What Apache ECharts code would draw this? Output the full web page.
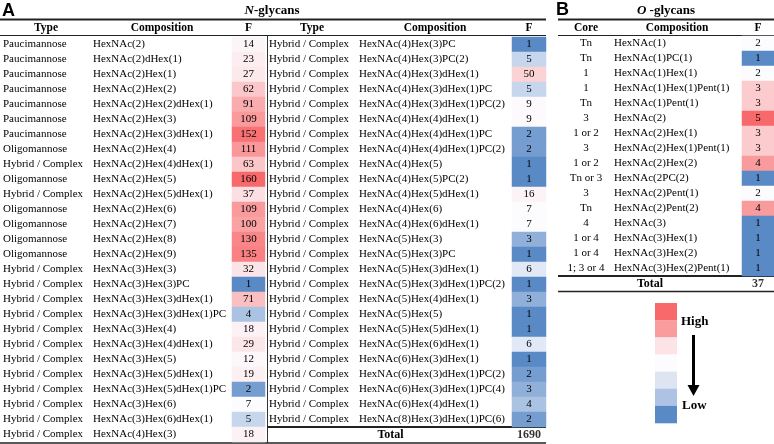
<!DOCTYPE html>
<html>
<head>
<meta charset="utf-8">
<script src="https://cdn.jsdelivr.net/npm/echarts@6/dist/echarts.min.js"></script>
<style>html,body{margin:0;padding:0;background:#fff;}#main{width:774px;height:444px;}</style>
</head>
<body>
<div id="main"></div>
<script>
// ---------- DATA ----------
const nLeftType = ['Paucimannose','Paucimannose','Paucimannose','Paucimannose','Paucimannose','Paucimannose','Paucimannose','Oligomannose','Hybrid / Complex','Oligomannose','Hybrid / Complex','Oligomannose','Oligomannose','Oligomannose','Oligomannose','Hybrid / Complex','Hybrid / Complex','Hybrid / Complex','Hybrid / Complex','Hybrid / Complex','Hybrid / Complex','Hybrid / Complex','Hybrid / Complex','Hybrid / Complex','Hybrid / Complex','Hybrid / Complex','Hybrid / Complex'];
const nLeftComp = ['HexNAc(2)','HexNAc(2)dHex(1)','HexNAc(2)Hex(1)','HexNAc(2)Hex(2)','HexNAc(2)Hex(2)dHex(1)','HexNAc(2)Hex(3)','HexNAc(2)Hex(3)dHex(1)','HexNAc(2)Hex(4)','HexNAc(2)Hex(4)dHex(1)','HexNAc(2)Hex(5)','HexNAc(2)Hex(5)dHex(1)','HexNAc(2)Hex(6)','HexNAc(2)Hex(7)','HexNAc(2)Hex(8)','HexNAc(2)Hex(9)','HexNAc(3)Hex(3)','HexNAc(3)Hex(3)PC','HexNAc(3)Hex(3)dHex(1)','HexNAc(3)Hex(3)dHex(1)PC','HexNAc(3)Hex(4)','HexNAc(3)Hex(4)dHex(1)','HexNAc(3)Hex(5)','HexNAc(3)Hex(5)dHex(1)','HexNAc(3)Hex(5)dHex(1)PC','HexNAc(3)Hex(6)','HexNAc(3)Hex(6)dHex(1)','HexNAc(4)Hex(3)'];
const nLeftF = [14,23,27,62,91,109,152,111,63,160,37,109,100,130,135,32,1,71,4,18,29,12,19,2,7,5,18];

const nRightType = ['Hybrid / Complex','Hybrid / Complex','Hybrid / Complex','Hybrid / Complex','Hybrid / Complex','Hybrid / Complex','Hybrid / Complex','Hybrid / Complex','Hybrid / Complex','Hybrid / Complex','Hybrid / Complex','Hybrid / Complex','Hybrid / Complex','Hybrid / Complex','Hybrid / Complex','Hybrid / Complex','Hybrid / Complex','Hybrid / Complex','Hybrid / Complex','Hybrid / Complex','Hybrid / Complex','Hybrid / Complex','Hybrid / Complex','Hybrid / Complex','Hybrid / Complex','Hybrid / Complex'];
const nRightComp = ['HexNAc(4)Hex(3)PC','HexNAc(4)Hex(3)PC(2)','HexNAc(4)Hex(3)dHex(1)','HexNAc(4)Hex(3)dHex(1)PC','HexNAc(4)Hex(3)dHex(1)PC(2)','HexNAc(4)Hex(4)dHex(1)','HexNAc(4)Hex(4)dHex(1)PC','HexNAc(4)Hex(4)dHex(1)PC(2)','HexNAc(4)Hex(5)','HexNAc(4)Hex(5)PC(2)','HexNAc(4)Hex(5)dHex(1)','HexNAc(4)Hex(6)','HexNAc(4)Hex(6)dHex(1)','HexNAc(5)Hex(3)','HexNAc(5)Hex(3)PC','HexNAc(5)Hex(3)dHex(1)','HexNAc(5)Hex(3)dHex(1)PC(2)','HexNAc(5)Hex(4)dHex(1)','HexNAc(5)Hex(5)','HexNAc(5)Hex(5)dHex(1)','HexNAc(5)Hex(6)dHex(1)','HexNAc(6)Hex(3)dHex(1)','HexNAc(6)Hex(3)dHex(1)PC(2)','HexNAc(6)Hex(3)dHex(1)PC(4)','HexNAc(6)Hex(4)dHex(1)','HexNAc(8)Hex(3)dHex(1)PC(6)'];
const nRightF = [1,5,50,5,9,9,2,2,1,1,16,7,7,3,1,6,1,3,1,1,6,1,2,3,4,2];
const nTotal = 1690;

const oCore = ['Tn','Tn','1','1','Tn','3','1 or 2','3','1 or 2','Tn or 3','3','Tn','4','1 or 4','1 or 4','1; 3 or 4'];
const oComp = ['HexNAc(1)','HexNAc(1)PC(1)','HexNAc(1)Hex(1)','HexNAc(1)Hex(1)Pent(1)','HexNAc(1)Pent(1)','HexNAc(2)','HexNAc(2)Hex(1)','HexNAc(2)Hex(1)Pent(1)','HexNAc(2)Hex(2)','HexNAc(2PC(2)','HexNAc(2)Pent(1)','HexNAc(2)Pent(2)','HexNAc(3)','HexNAc(3)Hex(1)','HexNAc(3)Hex(2)','HexNAc(3)Hex(2)Pent(1)'];
const oF = [2,1,2,3,3,5,3,3,4,1,2,4,1,1,1,1];
const oTotal = 37;

const fHeader = ['F'];
const coreHeader = ['Core'];
const totalLabel = 'Total';

// ---------- STYLE ----------
const SERIF = "'Liberation Serif','Times New Roman',serif";
const SANS = "'Liberation Sans',Arial,sans-serif";
const RED = [248,105,107], WHITE = [252,252,255], BLUE = [90,138,198];
const legendColors = ['#F8696B','#FA9C9E','#FCE3E6','#FCFCFF','#DDE5F3','#AEC3E3','#5A8AC6'];

function median(arr){
  const s = arr.slice().sort((a,b)=>a-b); const n = s.length;
  return n % 2 ? s[(n-1)/2] : (s[n/2-1] + s[n/2]) / 2;
}
function mix(a,b,t){ return 'rgb(' + a.map((v,i)=>Math.round(v+(b[i]-v)*t)).join(',') + ')'; }
function scaleStops(min, mid, max){
  const out = [];
  for (let v = min; v <= max; v++) {
    if (v <= mid) out.push(mix(BLUE, WHITE, (v-min)/(mid-min)));
    else out.push(mix(WHITE, RED, (v-mid)/(max-mid)));
  }
  return out;
}
const nAll = nLeftF.concat(nRightF);
const nMin = Math.min(...nAll), nMax = Math.max(...nAll), nMid = median(nAll);
const oMin = Math.min(...oF), oMax = Math.max(...oF), oMid = median(oF);

function rowAxis(grid, cats, formatter, rich){
  return {
    type:'category', gridIndex:grid, data:cats, inverse:true,
    axisLine:{show:false}, axisTick:{show:false}, splitLine:{show:false},
    axisLabel:{show:!!formatter, interval:0, margin:0, fontFamily:SERIF, fontSize:11, color:'#000', lineHeight:15, formatter:formatter, rich:rich}
  };
}
function headAxis(grid, cats, margin){
  return {
    type:'category', gridIndex:grid, data:cats, position:'top',
    axisLine:{show:false}, axisTick:{show:false}, splitLine:{show:false},
    axisLabel:{fontFamily:SERIF, fontWeight:'bold', fontSize:11.5, color:'#000', margin:margin}
  };
}
const txt = {fontFamily:SERIF, fontSize:11, color:'#000', align:'left'};
const totStyle = {align:'center', fontFamily:SERIF, fontSize:12, fontWeight:'bold', color:'#000'};
const cellLabel = {show:true, fontFamily:SERIF, fontSize:11, color:'#000'};
const totLabel = {show:true, position:'inside', formatter:p=>p.value[2], fontFamily:SERIF, fontSize:12, fontWeight:'bold', color:'#000', textBorderWidth:0};

const option = {
  animation:false,
  backgroundColor:'#fff',
  grid:[
    {left:232, top:37, width:33, height:405},
    {left:512, top:37, width:34, height:405},
    {left:742, top:36, width:32, height:255},
    {left:558, top:36, width:56, height:255}
  ],
  xAxis:[headAxis(0,fHeader,3), headAxis(1,fHeader,3), headAxis(2,fHeader,2), headAxis(3,coreHeader,2)],
  yAxis:[
    rowAxis(0, nLeftComp, (v,i)=>'{t|'+nLeftType[i]+'}{c|'+v+'}',
      {t:Object.assign({width:90},txt), c:Object.assign({width:139},txt)}),
    rowAxis(1, nRightComp.concat([totalLabel]), (v,i)=> i === nRightComp.length ? '{tot|'+v+'}' : '{t|'+nRightType[i]+'}{c|'+v+'}',
      {t:Object.assign({width:90},txt), c:Object.assign({width:153},txt), tot:Object.assign({width:243}, totStyle)}),
    rowAxis(2, oComp.concat([totalLabel]), (v,i)=> i === oComp.length ? '{tot|'+v+'}' : '{c|'+v+'}',
      {c:Object.assign({width:128},txt), tot:Object.assign({width:184}, totStyle)}),
    rowAxis(3, oComp.concat([totalLabel]), null)
  ],
  visualMap:[
    {type:'continuous', show:false, seriesIndex:[0,1], min:nMin, max:nMax, inRange:{color:scaleStops(nMin,nMid,nMax)}},
    {type:'continuous', show:false, seriesIndex:[2], min:oMin, max:oMax, inRange:{color:scaleStops(oMin,oMid,oMax)}}
  ],
  series:[
    {type:'heatmap', xAxisIndex:0, yAxisIndex:0, data:nLeftF.map((v,i)=>[0,i,v]), label:cellLabel, emphasis:{disabled:true}},
    {type:'heatmap', xAxisIndex:1, yAxisIndex:1, data:nRightF.map((v,i)=>[0,i,v]), label:cellLabel, emphasis:{disabled:true}},
    {type:'heatmap', xAxisIndex:2, yAxisIndex:2, data:oF.map((v,i)=>[0,i,v]), label:cellLabel, emphasis:{disabled:true}},
    {type:'scatter', xAxisIndex:1, yAxisIndex:1, symbolSize:1, itemStyle:{color:'rgba(0,0,0,0)'},
     data:[[0, nRightComp.length, nTotal]], label:totLabel, emphasis:{disabled:true}},
    {type:'scatter', xAxisIndex:2, yAxisIndex:2, symbolSize:1, itemStyle:{color:'rgba(0,0,0,0)'},
     data:[[0, oComp.length, oTotal]], label:totLabel, emphasis:{disabled:true}},
    {type:'scatter', xAxisIndex:3, yAxisIndex:3, symbolSize:1, itemStyle:{color:'rgba(0,0,0,0)'},
     data:oCore.map((c,i)=>[0,i,c]), emphasis:{disabled:true},
     label:{show:true, position:'inside', formatter:p=>p.value[2], fontFamily:SERIF, fontSize:11, color:'#000', textBorderWidth:0, opacity:1}}
  ],
  graphic:[]
};

const G = option.graphic;
function text(x,y,t,style){ G.push({type:'text', x:x, y:y, silent:true, style:Object.assign({text:t, fill:'#000', fontFamily:SERIF, fontSize:11.5, fontWeight:'bold', align:'center', verticalAlign:'middle'}, style||{})}); }
function line(x1,y1,x2,y2,w,c){ G.push({type:'line', silent:true, shape:{x1:x1,y1:y1,x2:x2,y2:y2}, style:{stroke:c||'#222', lineWidth:w}}); }

// panel letters
text(2, 11, 'A', {fontFamily:SANS, fontSize:18, align:'left'});
text(556, 10, 'B', {fontFamily:SANS, fontSize:18, align:'left'});
// titles
const titleRich = {i:{fontFamily:SERIF, fontSize:13, fontWeight:'bold', fontStyle:'italic', fill:'#000'}, b:{fontFamily:SERIF, fontSize:13, fontWeight:'bold', fill:'#000'}};
G.push({type:'text', x:272, y:11, silent:true, style:{text:'{i|N}{b|-glycans}', align:'center', verticalAlign:'middle', rich:titleRich}});
G.push({type:'text', x:666, y:11, silent:true, style:{text:'{i|O} {b|-glycans}', align:'center', verticalAlign:'middle', rich:titleRich}});
// headers
text(46, 28, 'Type'); text(162, 28, 'Composition');
text(312, 28, 'Type'); text(435, 28, 'Composition');
text(677, 28, 'Composition');
// N table rules
line(0, 19.5, 546, 19.5, 2);
line(0, 35.5, 546, 35.5, 1);
line(267.5, 36, 267.5, 443, 1, '#333');
line(267, 427, 546, 427, 2);
line(0, 443, 546, 443, 1.5);
// O table rules
line(558, 19.5, 774, 19.5, 2);
line(558, 35.5, 774, 35.5, 1);
line(558, 276, 774, 276, 2);
line(558, 291.5, 774, 291.5, 1.5);
// colour key
legendColors.forEach((c,i)=>{
  G.push({type:'rect', silent:true, shape:{x:655, y:303+i*17.15, width:22, height:17.4}, style:{fill:c}});
});
text(681, 322, 'High', {fontSize:13, align:'left'});
text(682, 406, 'Low', {fontSize:13, align:'left'});
line(693.5, 335, 693.5, 387, 3, '#000');
G.push({type:'polygon', silent:true, shape:{points:[[687.5,385],[699.5,385],[693.5,396]]}, style:{fill:'#000'}});

const chart = echarts.init(document.getElementById('main'), null, {renderer:'canvas'});
chart.setOption(option);
</script>
</body>
</html>
